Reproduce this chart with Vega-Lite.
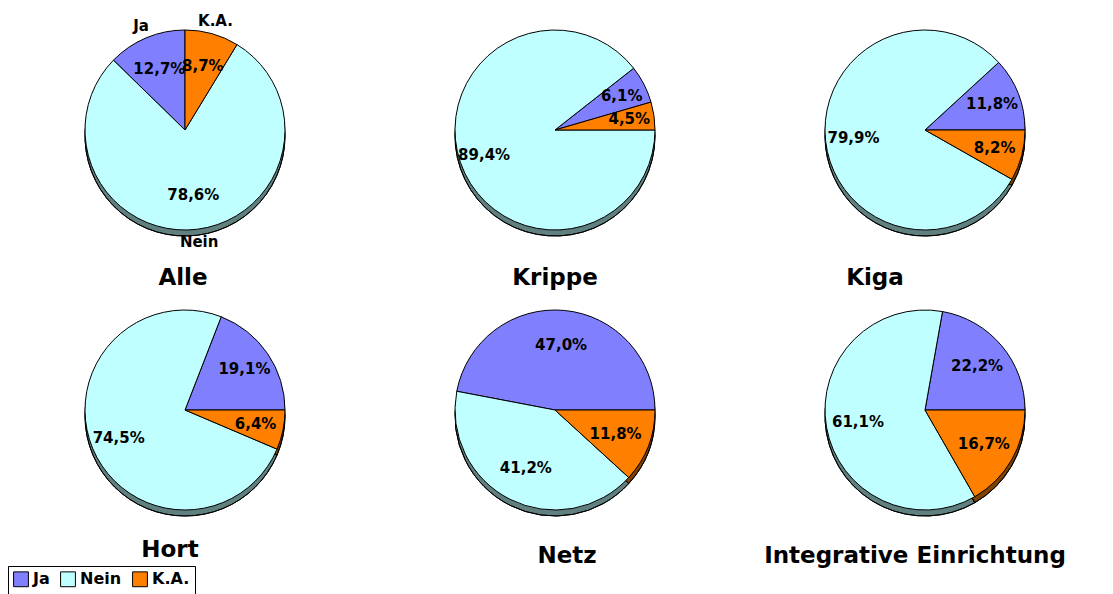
{
  "$schema": "https://vega.github.io/schema/vega-lite/v6.json",
  "padding": {"left": 0, "top": 0, "right": 0, "bottom": 40},
  "background": "white",
  "config": {
    "view": {"stroke": null},
    "locale": {"number": {"decimal": ",", "thousands": ".", "grouping": [3], "currency": ["", " €"]}},
    "title": {"orient": "bottom", "font": "DejaVu Sans", "fontSize": 23, "fontWeight": "bold", "color": "black", "anchor": "middle"},
    "text": {"font": "DejaVu Sans", "fontWeight": "bold", "fontSize": 15, "color": "black"},
    "arc": {"stroke": "black", "strokeWidth": 1}
  },
  "data": {"values": [
    {"gruppe": "Alle", "antwort": "Ja", "anteil": 0.127, "ord": 3},
    {"gruppe": "Alle", "antwort": "Nein", "anteil": 0.786, "ord": 2},
    {"gruppe": "Alle", "antwort": "K.A.", "anteil": 0.087, "ord": 1},
    {"gruppe": "Krippe", "antwort": "Ja", "anteil": 0.061, "ord": 3},
    {"gruppe": "Krippe", "antwort": "Nein", "anteil": 0.894, "ord": 2},
    {"gruppe": "Krippe", "antwort": "K.A.", "anteil": 0.045, "ord": 1},
    {"gruppe": "Kiga", "antwort": "Ja", "anteil": 0.118, "ord": 3},
    {"gruppe": "Kiga", "antwort": "Nein", "anteil": 0.799, "ord": 2},
    {"gruppe": "Kiga", "antwort": "K.A.", "anteil": 0.082, "ord": 1},
    {"gruppe": "Hort", "antwort": "Ja", "anteil": 0.191, "ord": 3},
    {"gruppe": "Hort", "antwort": "Nein", "anteil": 0.745, "ord": 2},
    {"gruppe": "Hort", "antwort": "K.A.", "anteil": 0.064, "ord": 1},
    {"gruppe": "Netz", "antwort": "Ja", "anteil": 0.470, "ord": 3},
    {"gruppe": "Netz", "antwort": "Nein", "anteil": 0.412, "ord": 2},
    {"gruppe": "Netz", "antwort": "K.A.", "anteil": 0.118, "ord": 1},
    {"gruppe": "Integrative Einrichtung", "antwort": "Ja", "anteil": 0.222, "ord": 3},
    {"gruppe": "Integrative Einrichtung", "antwort": "Nein", "anteil": 0.611, "ord": 2},
    {"gruppe": "Integrative Einrichtung", "antwort": "K.A.", "anteil": 0.167, "ord": 1}
  ]},
  "resolve": {"scale": {"theta": "independent", "color": "shared"}, "legend": {"color": "shared"}},
  "spacing": 0,
  "vconcat": [
    {
      "spacing": 0,
      "resolve": {"scale": {"theta": "independent", "color": "shared"}, "legend": {"color": "shared"}},
      "hconcat": [
        {
          "width": 370, "height": 260,
          "title": {"text": "Alle", "offset": 7, "dx": -2},
          "transform": [{"filter": "datum.gruppe === 'Alle'"}],
          "encoding": {
            "theta": {"field": "anteil", "type": "quantitative", "stack": true, "scale": {"range": [0, 6.2832], "nice": false}},
            "order": {"field": "ord", "type": "quantitative"}
          },
          "layer": [
            {"mark": {"type": "arc", "outerRadius": 100, "yOffset": 6}, "encoding": {"color": {"field": "antwort", "type": "nominal",
              "scale": {"domain": ["Ja", "Nein", "K.A."], "range": ["#8080FF", "#C0FFFF", "#FF8000"]},
              "legend": {"title": null, "orient": "none", "legendX": 8, "legendY": 566, "direction": "horizontal",
                "strokeColor": "black", "fillColor": "white", "padding": 5,
                "symbolType": "square", "symbolSize": 220, "symbolStrokeColor": "black", "symbolStrokeWidth": 1.2,
                "labelFont": "DejaVu Sans", "labelFontSize": 16, "labelFontWeight": "bold", "labelColor": "black",
                "columnPadding": 8, "labelOffset": 4}}}},
            {"mark": {"type": "arc", "outerRadius": 100, "yOffset": 6, "fill": "black", "fillOpacity": 0.5}, "encoding": {}},
            {"mark": {"type": "arc", "outerRadius": 100}, "encoding": {"color": {"field": "antwort", "type": "nominal"}}},
            {"mark": {"type": "text", "radius": 66}, "encoding": {"text": {"field": "anteil", "type": "quantitative", "format": ".1%"}}},
            {"mark": {"type": "text", "radius": 113}, "encoding": {"text": {"field": "antwort", "type": "nominal"}}}
          ]
        },
        {
          "width": 370, "height": 260,
          "title": {"text": "Krippe", "offset": 7},
          "transform": [{"filter": "datum.gruppe === 'Krippe'"}],
          "encoding": {
            "theta": {"field": "anteil", "type": "quantitative", "stack": true, "scale": {"range": [1.288, 7.5712], "nice": false}},
            "order": {"field": "ord", "type": "quantitative"}
          },
          "layer": [
            {"mark": {"type": "arc", "outerRadius": 100, "yOffset": 6}, "encoding": {"color": {"field": "antwort", "type": "nominal"}}},
            {"mark": {"type": "arc", "outerRadius": 100, "yOffset": 6, "fill": "black", "fillOpacity": 0.5}, "encoding": {}},
            {"mark": {"type": "arc", "outerRadius": 100}, "encoding": {"color": {"field": "antwort", "type": "nominal"}}},
            {"mark": {"type": "text", "radius": 75}, "encoding": {"text": {"field": "anteil", "type": "quantitative", "format": ".1%"}}}
          ]
        },
        {
          "width": 370, "height": 260,
          "title": {"text": "Kiga", "offset": 7, "dx": -50},
          "transform": [{"filter": "datum.gruppe === 'Kiga'"}],
          "encoding": {
            "theta": {"field": "anteil", "type": "quantitative", "stack": true, "scale": {"range": [1.5708, 7.854], "nice": false}},
            "order": {"field": "ord", "type": "quantitative"}
          },
          "layer": [
            {"mark": {"type": "arc", "outerRadius": 100, "yOffset": 6}, "encoding": {"color": {"field": "antwort", "type": "nominal"}}},
            {"mark": {"type": "arc", "outerRadius": 100, "yOffset": 6, "fill": "black", "fillOpacity": 0.5}, "encoding": {}},
            {"mark": {"type": "arc", "outerRadius": 100}, "encoding": {"color": {"field": "antwort", "type": "nominal"}}},
            {"mark": {"type": "text", "radius": 72}, "encoding": {"text": {"field": "anteil", "type": "quantitative", "format": ".1%"}}}
          ]
        }
      ]
    },
    {
      "spacing": 0,
      "resolve": {"scale": {"theta": "independent", "color": "shared"}, "legend": {"color": "shared"}},
      "hconcat": [
        {
          "width": 370, "height": 240,
          "title": {"text": "Hort", "offset": 9, "dx": -15},
          "transform": [{"filter": "datum.gruppe === 'Hort'"}],
          "encoding": {
            "theta": {"field": "anteil", "type": "quantitative", "stack": true, "scale": {"range": [1.5708, 7.854], "nice": false}},
            "order": {"field": "ord", "type": "quantitative"}
          },
          "layer": [
            {"mark": {"type": "arc", "outerRadius": 100, "yOffset": 6}, "encoding": {"color": {"field": "antwort", "type": "nominal"}}},
            {"mark": {"type": "arc", "outerRadius": 100, "yOffset": 6, "fill": "black", "fillOpacity": 0.5}, "encoding": {}},
            {"mark": {"type": "arc", "outerRadius": 100}, "encoding": {"color": {"field": "antwort", "type": "nominal"}}},
            {"mark": {"type": "text", "radius": 72}, "encoding": {"text": {"field": "anteil", "type": "quantitative", "format": ".1%"}}}
          ]
        },
        {
          "width": 370, "height": 240,
          "title": {"text": "Netz", "offset": 15, "dx": 12},
          "transform": [{"filter": "datum.gruppe === 'Netz'"}],
          "encoding": {
            "theta": {"field": "anteil", "type": "quantitative", "stack": true, "scale": {"range": [1.5708, 7.854], "nice": false}},
            "order": {"field": "ord", "type": "quantitative"}
          },
          "layer": [
            {"mark": {"type": "arc", "outerRadius": 100, "yOffset": 6}, "encoding": {"color": {"field": "antwort", "type": "nominal"}}},
            {"mark": {"type": "arc", "outerRadius": 100, "yOffset": 6, "fill": "black", "fillOpacity": 0.5}, "encoding": {}},
            {"mark": {"type": "arc", "outerRadius": 100}, "encoding": {"color": {"field": "antwort", "type": "nominal"}}},
            {"mark": {"type": "text", "radius": 65}, "encoding": {"text": {"field": "anteil", "type": "quantitative", "format": ".1%"}}}
          ]
        },
        {
          "width": 370, "height": 240,
          "title": {"text": "Integrative Einrichtung", "offset": 15, "dx": -10},
          "transform": [{"filter": "datum.gruppe === 'Integrative Einrichtung'"}],
          "encoding": {
            "theta": {"field": "anteil", "type": "quantitative", "stack": true, "scale": {"range": [1.5708, 7.854], "nice": false}},
            "order": {"field": "ord", "type": "quantitative"}
          },
          "layer": [
            {"mark": {"type": "arc", "outerRadius": 100, "yOffset": 6}, "encoding": {"color": {"field": "antwort", "type": "nominal"}}},
            {"mark": {"type": "arc", "outerRadius": 100, "yOffset": 6, "fill": "black", "fillOpacity": 0.5}, "encoding": {}},
            {"mark": {"type": "arc", "outerRadius": 100}, "encoding": {"color": {"field": "antwort", "type": "nominal"}}},
            {"mark": {"type": "text", "radius": 68}, "encoding": {"text": {"field": "anteil", "type": "quantitative", "format": ".1%"}}}
          ]
        }
      ]
    }
  ]
}
